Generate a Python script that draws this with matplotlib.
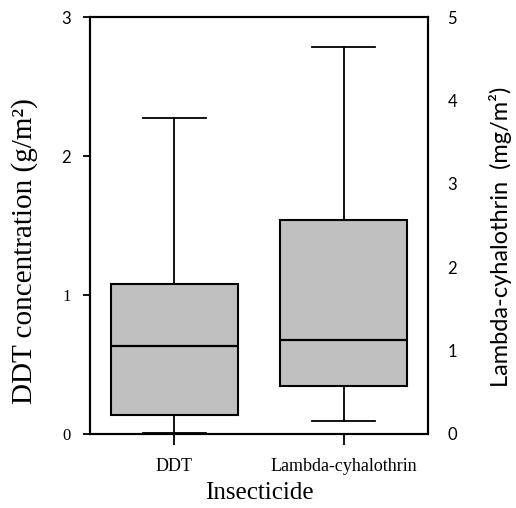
import matplotlib
matplotlib.use("Agg")
import matplotlib.pyplot as plt

# summary values
insecticides = ["DDT", "Lambda-cyhalothrin"]
ddt_stats = dict(whislo=0.01, q1=0.14, med=0.63, q3=1.08, whishi=2.27)      # g/m2
lambda_stats = dict(whislo=0.16, q1=0.57, med=1.13, q3=2.57, whishi=4.64)   # mg/m2
left_ticks = [0, 1, 2, 3]
right_ticks = [0, 1, 2, 3, 4, 5]

serif = ["Liberation Serif", "DejaVu Serif"]
sans = ["Lato", "DejaVu Sans"]

fig = plt.figure(figsize=(5.16, 5.08), dpi=100)
ax = fig.add_axes([0.1744, 0.1457, 0.6551, 0.8208])
ax2 = ax.twinx()

boxprops = dict(facecolor="#c0c0c0", edgecolor="black", linewidth=1.5)
lineprops = dict(color="black", linewidth=1.3)
medprops = dict(color="black", linewidth=1.6)

ax.bxp([ddt_stats], positions=[1], widths=0.75, patch_artist=True, showfliers=False,
       boxprops=boxprops, whiskerprops=lineprops, capprops=lineprops, medianprops=medprops)
ax2.bxp([lambda_stats], positions=[2], widths=0.75, patch_artist=True, showfliers=False,
        boxprops=boxprops, whiskerprops=lineprops, capprops=lineprops, medianprops=medprops)

ax.set_xlim(0.5, 2.5)
ax.set_ylim(0, 3)
ax2.set_ylim(0, 5)

ax.set_xticks([1, 2])
ax.set_xticklabels(insecticides, family=serif, fontsize=13)
ax.set_yticks(left_ticks)
ax.set_yticklabels([str(t) for t in left_ticks], fontsize=12)
for lab in ax.get_yticklabels():
    lab.set_family(serif if lab.get_text() in ("0", "1") else sans)
ax2.set_yticks(right_ticks)
ax2.set_yticklabels([str(t) for t in right_ticks], family=sans, fontsize=12)

ax.tick_params(axis="y", direction="out", length=5, width=1.3, pad=9, right=False)
ax.tick_params(axis="x", direction="out", length=8, width=1.3, pad=9, top=False)
ax2.tick_params(axis="y", length=0, pad=14)

for a in (ax, ax2):
    for sp in a.spines.values():
        sp.set_linewidth(1.5)

fig.text(0.047, 0.506, "DDT concentration (g/m²)", rotation=90, ha="center", va="center",
         family=serif, fontsize=21)
fig.text(0.970, 0.533, "Lambda-cyhalothrin  (mg/m²)", rotation=90, ha="center", va="center",
         family=sans, fontsize=17)
fig.text(0.502, 0.030, "Insecticide", ha="center", va="center", family=serif, fontsize=18)

fig.savefig("out.png", dpi=100)
